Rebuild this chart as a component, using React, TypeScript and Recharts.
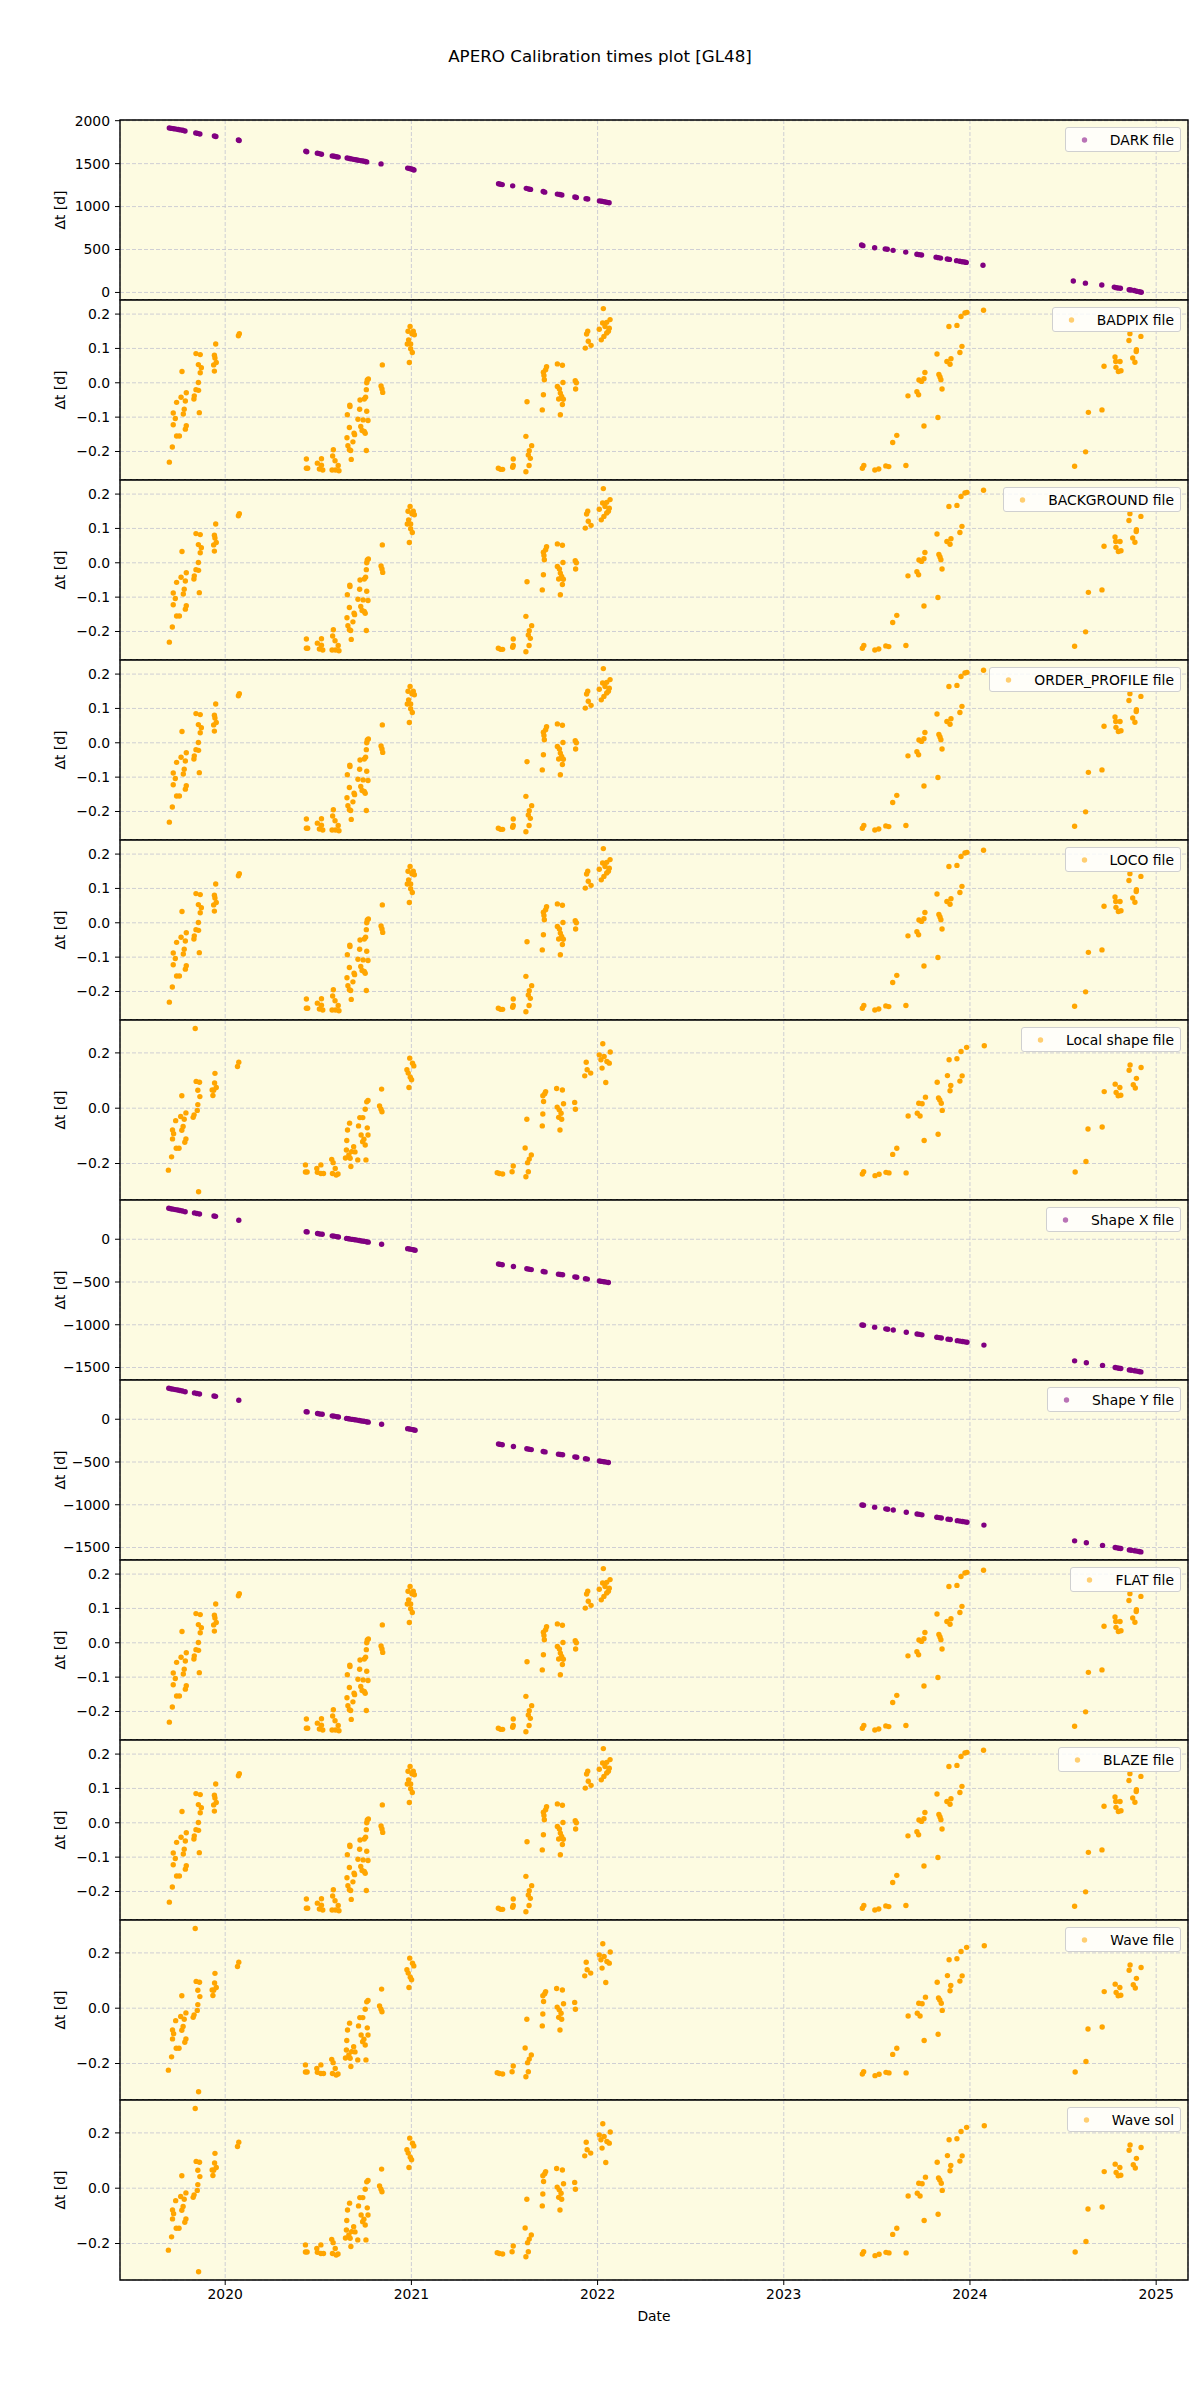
import React from 'react';
import {
  ScatterChart,
  Scatter,
  XAxis,
  YAxis,
  CartesianGrid,
  ReferenceArea,
  Legend,
} from 'recharts';

type Pt = [number, number];

// dates are decimal years, values are Δt in days
const YEAR_TICKS = [2020, 2021, 2022, 2023, 2024, 2025];
const DATE_DOMAIN: [number, number] = [2019.435, 2025.171];

const DARK_POINTS: Pt[] = [
  [2019.7, 1915], [2019.712, 1910], [2019.724, 1906], [2019.736, 1902], [2019.748, 1897],
  [2019.76, 1893], [2019.772, 1888], [2019.784, 1880], [2019.842, 1858], [2019.852, 1852],
  [2019.864, 1845], [2019.942, 1822], [2019.95, 1816], [2020.071, 1776], [2020.075, 1770],
  [2020.433, 1645], [2020.438, 1638], [2020.495, 1622], [2020.505, 1617], [2020.517, 1610],
  [2020.575, 1590], [2020.585, 1586], [2020.597, 1580], [2020.607, 1576], [2020.655, 1565],
  [2020.667, 1560], [2020.678, 1555], [2020.69, 1550], [2020.702, 1546], [2020.714, 1540],
  [2020.728, 1535], [2020.74, 1530], [2020.752, 1525], [2020.76, 1520], [2020.837, 1497],
  [2020.98, 1448], [2020.99, 1443], [2021.0, 1438], [2021.008, 1432], [2021.014, 1425],
  [2021.468, 1265], [2021.478, 1260], [2021.488, 1256], [2021.544, 1241], [2021.617, 1212],
  [2021.63, 1205], [2021.64, 1200], [2021.708, 1175], [2021.716, 1168], [2021.784, 1145],
  [2021.797, 1140], [2021.808, 1135], [2021.878, 1111], [2021.886, 1106], [2021.938, 1092],
  [2021.947, 1088], [2022.01, 1066], [2022.022, 1062], [2022.032, 1058], [2022.042, 1053],
  [2022.052, 1049], [2022.062, 1044],
  [2023.418, 552], [2023.425, 545], [2023.488, 520], [2023.545, 507], [2023.556, 503],
  [2023.587, 490], [2023.655, 470], [2023.715, 445], [2023.728, 440], [2023.74, 436],
  [2023.818, 411], [2023.83, 405], [2023.842, 400], [2023.878, 390], [2023.89, 385],
  [2023.928, 370], [2023.945, 364], [2023.958, 358], [2023.97, 354], [2023.98, 350],
  [2024.07, 316],
  [2024.555, 133], [2024.62, 108], [2024.708, 86], [2024.775, 62], [2024.785, 56],
  [2024.795, 52], [2024.808, 48], [2024.855, 32], [2024.865, 28], [2024.882, 22],
  [2024.895, 14], [2024.91, 8], [2024.92, 3],
];

const SHAPE_POINTS: Pt[] = [
  [2019.697, 362], [2019.708, 357], [2019.72, 352], [2019.732, 347], [2019.745, 342],
  [2019.757, 336], [2019.77, 330], [2019.785, 322], [2019.835, 308], [2019.848, 302],
  [2019.862, 296], [2019.94, 272], [2019.948, 268], [2020.073, 222],
  [2020.435, 89], [2020.44, 86], [2020.496, 67], [2020.508, 62], [2020.521, 58],
  [2020.575, 40], [2020.585, 36], [2020.598, 31], [2020.608, 27], [2020.652, 10],
  [2020.662, 6], [2020.672, 2], [2020.684, -2], [2020.696, -6], [2020.708, -10],
  [2020.72, -14], [2020.732, -20], [2020.745, -24], [2020.758, -30], [2020.768, -34],
  [2020.84, -58], [2020.98, -110], [2020.99, -114], [2021.0, -118], [2021.01, -122],
  [2021.02, -128],
  [2021.468, -290], [2021.478, -294], [2021.488, -298], [2021.548, -318], [2021.62, -345],
  [2021.632, -350], [2021.644, -355], [2021.708, -378], [2021.718, -382], [2021.79, -408],
  [2021.8, -412], [2021.812, -416], [2021.878, -440], [2021.888, -444], [2021.935, -462],
  [2021.945, -466], [2022.01, -488], [2022.022, -493], [2022.034, -497], [2022.046, -501],
  [2022.058, -506],
  [2023.42, -1002], [2023.428, -1005], [2023.488, -1028], [2023.548, -1048], [2023.558, -1052],
  [2023.588, -1062], [2023.658, -1088], [2023.716, -1108], [2023.728, -1112], [2023.742, -1118],
  [2023.822, -1146], [2023.834, -1150], [2023.846, -1155], [2023.882, -1168], [2023.894, -1172],
  [2023.932, -1186], [2023.946, -1191], [2023.96, -1196], [2023.972, -1200], [2023.984, -1205],
  [2024.075, -1238],
  [2024.562, -1422], [2024.625, -1445], [2024.712, -1475], [2024.78, -1500], [2024.79, -1504],
  [2024.8, -1508], [2024.81, -1511], [2024.856, -1528], [2024.866, -1532], [2024.884, -1538],
  [2024.896, -1542], [2024.908, -1547], [2024.918, -1551],
];

// BADPIX / BACKGROUND / ORDER_PROFILE / LOCO / FLAT / BLAZE
const CALIB_POINTS: Pt[] = [
  [2019.7, -0.231], [2019.716, -0.187], [2019.721, -0.122], [2019.721, -0.088], [2019.732, -0.104],
  [2019.739, -0.057], [2019.739, -0.155], [2019.754, -0.155], [2019.763, -0.042], [2019.768, 0.033],
  [2019.775, -0.091], [2019.78, -0.077], [2019.786, -0.053], [2019.786, -0.135], [2019.791, -0.125],
  [2019.791, -0.029], [2019.832, -0.047], [2019.834, -0.038], [2019.843, -0.02], [2019.857, -0.022],
  [2019.856, 0.001], [2019.861, -0.087], [2019.866, 0.029], [2019.872, 0.044], [2019.856, 0.053],
  [2019.843, 0.085], [2019.866, 0.082], [2019.942, 0.034], [2019.938, 0.052], [2019.952, 0.059],
  [2019.945, 0.072], [2019.942, 0.08], [2019.949, 0.113], [2020.071, 0.137], [2020.076, 0.143],
  [2020.436, -0.222], [2020.436, -0.249], [2020.443, -0.249], [2020.495, -0.234], [2020.517, -0.221],
  [2020.506, -0.251], [2020.524, -0.254], [2020.517, -0.24], [2020.581, -0.195], [2020.577, -0.213],
  [2020.59, -0.227], [2020.574, -0.254], [2020.592, -0.254], [2020.607, -0.241], [2020.611, -0.256],
  [2020.656, -0.093], [2020.667, -0.13], [2020.67, -0.069], [2020.669, -0.065], [2020.654, -0.16],
  [2020.659, -0.183], [2020.667, -0.195], [2020.674, -0.197], [2020.677, -0.223], [2020.686, -0.172],
  [2020.692, -0.147], [2020.695, -0.151], [2020.713, -0.106], [2020.722, -0.077], [2020.724, -0.05],
  [2020.728, -0.127], [2020.735, -0.139], [2020.741, -0.108], [2020.747, -0.142], [2020.747, -0.047],
  [2020.752, -0.147], [2020.754, -0.042], [2020.76, -0.083], [2020.767, -0.11], [2020.758, -0.197],
  [2020.758, -0.02], [2020.76, 0.0], [2020.763, 0.008], [2020.769, 0.011],
  [2020.844, 0.052], [2020.837, -0.009], [2020.842, -0.018], [2020.846, -0.028],
  [2020.989, 0.059], [2020.993, 0.164], [2020.982, 0.15], [2020.985, 0.125], [2020.978, 0.113],
  [2020.996, 0.113], [2020.996, 0.099], [2021.005, 0.088], [2021.01, 0.15], [2021.016, 0.14],
  [2021.003, 0.143],
  [2021.467, -0.249], [2021.479, -0.252], [2021.49, -0.252], [2021.544, -0.246], [2021.547, -0.241],
  [2021.547, -0.222], [2021.615, -0.156], [2021.628, -0.21], [2021.633, -0.198], [2021.639, -0.22],
  [2021.646, -0.183], [2021.632, -0.241], [2021.615, -0.259], [2021.621, -0.055], [2021.703, -0.079],
  [2021.709, -0.035], [2021.714, 0.009], [2021.712, 0.021], [2021.709, 0.031], [2021.721, 0.038],
  [2021.726, 0.047], [2021.784, 0.055], [2021.811, 0.051], [2021.784, -0.011], [2021.791, -0.047],
  [2021.795, -0.018], [2021.8, -0.03], [2021.807, -0.04], [2021.811, -0.063], [2021.816, -0.048],
  [2021.8, -0.093], [2021.814, 0.001], [2021.88, 0.006], [2021.886, 0.0], [2021.882, -0.018],
  [2021.934, 0.101], [2021.941, 0.142], [2021.947, 0.15], [2021.95, 0.121], [2021.965, 0.109],
  [2022.009, 0.156], [2022.02, 0.125], [2022.027, 0.174], [2022.031, 0.216], [2022.04, 0.164],
  [2022.049, 0.145], [2022.058, 0.15], [2022.067, 0.184], [2022.063, 0.159], [2022.049, 0.176],
  [2022.034, 0.135],
  [2023.422, -0.249], [2023.43, -0.241], [2023.489, -0.254], [2023.51, -0.251], [2023.548, -0.242],
  [2023.564, -0.244], [2023.585, -0.174], [2023.607, -0.153], [2023.656, -0.241], [2023.667, -0.038],
  [2023.715, -0.026], [2023.724, -0.035], [2023.753, -0.126], [2023.726, 0.008], [2023.74, 0.004],
  [2023.753, 0.012], [2023.758, 0.03], [2023.823, 0.084], [2023.828, -0.101], [2023.833, 0.024],
  [2023.839, 0.017], [2023.844, 0.009], [2023.85, -0.018], [2023.876, 0.062], [2023.893, 0.054],
  [2023.898, 0.07], [2023.887, 0.164], [2023.93, 0.167], [2023.946, 0.088], [2023.957, 0.106],
  [2023.952, 0.193], [2023.973, 0.203], [2023.984, 0.205], [2024.073, 0.211],
  [2024.562, -0.243], [2024.621, -0.201], [2024.636, -0.086], [2024.709, -0.079], [2024.72, 0.048],
  [2024.779, 0.075], [2024.783, 0.062], [2024.784, 0.045], [2024.797, 0.033], [2024.806, 0.062],
  [2024.811, 0.035], [2024.854, 0.123], [2024.859, 0.143], [2024.874, 0.072], [2024.886, 0.06],
  [2024.894, 0.096], [2024.893, 0.091], [2024.918, 0.135],
];

// Local shape / Wave file / Wave sol
const WAVE_POINTS: Pt[] = [
  [2019.695, -0.224], [2019.712, -0.176], [2019.717, -0.111], [2019.717, -0.079], [2019.723, -0.092],
  [2019.734, -0.045], [2019.737, -0.145], [2019.752, -0.145], [2019.761, -0.03], [2019.767, 0.045],
  [2019.767, -0.08], [2019.774, -0.066], [2019.78, -0.04], [2019.783, -0.123], [2019.789, -0.111],
  [2019.789, -0.017], [2019.828, -0.033], [2019.833, -0.024], [2019.839, 0.288], [2019.844, 0.097],
  [2019.85, -0.008], [2019.853, 0.065], [2019.853, 0.013], [2019.857, -0.302], [2019.862, 0.094],
  [2019.864, 0.042], [2019.934, 0.046], [2019.938, 0.065], [2019.943, 0.091], [2019.952, 0.075],
  [2019.93, 0.066], [2019.945, 0.126], [2020.066, 0.151], [2020.073, 0.166],
  [2020.431, -0.205], [2020.431, -0.231], [2020.44, -0.231], [2020.492, -0.218], [2020.495, -0.232],
  [2020.514, -0.205], [2020.514, -0.236], [2020.528, -0.236], [2020.572, -0.185], [2020.58, -0.197],
  [2020.576, -0.236], [2020.591, -0.218], [2020.596, -0.242], [2020.606, -0.238], [2020.646, -0.18],
  [2020.651, -0.151], [2020.653, -0.117], [2020.657, -0.079], [2020.668, -0.054], [2020.664, -0.169],
  [2020.671, -0.181], [2020.675, -0.211], [2020.679, -0.157], [2020.69, -0.139], [2020.697, -0.158],
  [2020.712, -0.187], [2020.716, -0.064], [2020.723, -0.034], [2020.73, -0.097], [2020.738, -0.121],
  [2020.745, -0.112], [2020.752, -0.133], [2020.756, -0.187], [2020.763, -0.071], [2020.767, -0.097],
  [2020.739, -0.034], [2020.752, -0.004], [2020.76, 0.023], [2020.767, 0.028], [2020.829, 0.008],
  [2020.837, -0.004], [2020.842, -0.013], [2020.84, 0.069], [2020.987, 0.075], [2020.983, 0.127],
  [2020.976, 0.139], [2020.991, 0.181], [2020.994, 0.112], [2021.001, 0.103], [2021.006, 0.163],
  [2021.013, 0.153],
  [2021.461, -0.233], [2021.472, -0.236], [2021.49, -0.238], [2021.541, -0.23], [2021.547, -0.209],
  [2021.611, -0.144], [2021.624, -0.197], [2021.628, -0.23], [2021.615, -0.248], [2021.633, -0.184],
  [2021.644, -0.169], [2021.62, -0.04], [2021.703, -0.064], [2021.706, -0.021], [2021.71, 0.024],
  [2021.706, 0.045], [2021.716, 0.052], [2021.721, 0.06], [2021.78, 0.071], [2021.811, 0.066],
  [2021.783, 0.004], [2021.791, -0.033], [2021.794, -0.006], [2021.804, -0.018], [2021.807, -0.04],
  [2021.798, -0.079], [2021.817, 0.016], [2021.877, 0.021], [2021.881, -0.004], [2021.931, 0.117],
  [2021.939, 0.166], [2021.944, 0.139], [2021.963, 0.127], [2022.018, 0.175], [2022.024, 0.145],
  [2022.028, 0.233], [2022.035, 0.187], [2022.044, 0.093], [2022.05, 0.169], [2022.063, 0.163],
  [2022.068, 0.203], [2022.009, 0.193],
  [2023.422, -0.238], [2023.429, -0.23], [2023.49, -0.244], [2023.512, -0.239], [2023.549, -0.232],
  [2023.565, -0.234], [2023.585, -0.167], [2023.607, -0.145], [2023.657, -0.234], [2023.668, -0.028],
  [2023.717, -0.018], [2023.732, -0.028], [2023.754, -0.117], [2023.725, 0.018], [2023.743, 0.016],
  [2023.761, 0.04], [2023.824, 0.094], [2023.829, -0.094], [2023.831, 0.037], [2023.838, 0.03],
  [2023.846, 0.018], [2023.851, -0.008], [2023.879, 0.118], [2023.897, 0.082], [2023.893, 0.063],
  [2023.888, 0.175], [2023.93, 0.179], [2023.946, 0.098], [2023.958, 0.117], [2023.952, 0.205],
  [2023.982, 0.22], [2024.077, 0.226],
  [2024.565, -0.231], [2024.623, -0.193], [2024.634, -0.075], [2024.71, -0.068], [2024.721, 0.06],
  [2024.78, 0.087], [2024.785, 0.057], [2024.796, 0.045], [2024.805, 0.075], [2024.81, 0.047],
  [2024.855, 0.137], [2024.86, 0.156], [2024.877, 0.085], [2024.888, 0.073], [2024.894, 0.108],
  [2024.919, 0.147],
];

const DARK_TICKS = [0, 500, 1000, 1500, 2000];
const SHAPE_TICKS = [-1500, -1000, -500, 0];
const CALIB_TICKS = [-0.2, -0.1, 0, 0.1, 0.2];
const WAVE_TICKS = [-0.2, 0, 0.2];

const PURPLE = '#800080';
const ORANGE = '#ffa500';
const FONT = 'DejaVu Sans, sans-serif';

const PAD = 10; // room above/below each panel for edge tick labels

const fmtInt = (v: number) => (v < 0 ? `\u2212${Math.abs(v)}` : `${v}`);
const fmtDec = (v: number) => (v < 0 ? `\u2212${Math.abs(v).toFixed(1)}` : v.toFixed(1));

const calib = { data: CALIB_POINTS, color: ORANGE, domain: [-0.283, 0.241], ticks: CALIB_TICKS, fmt: fmtDec, labelX: 61 };
const wave = { data: WAVE_POINTS, color: ORANGE, domain: [-0.332, 0.319], ticks: WAVE_TICKS, fmt: fmtDec, labelX: 61 };
const shape = { data: SHAPE_POINTS, color: PURPLE, domain: [-1646, 459], ticks: SHAPE_TICKS, fmt: fmtInt, labelX: 49 };

const PANELS = [
  { name: 'DARK file', data: DARK_POINTS, color: PURPLE, domain: [-88, 2008], ticks: DARK_TICKS, fmt: fmtInt, labelX: 60 },
  { name: 'BADPIX file', ...calib },
  { name: 'BACKGROUND file', ...calib },
  { name: 'ORDER_PROFILE file', ...calib },
  { name: 'LOCO file', ...calib },
  { name: 'Local shape file', ...wave },
  { name: 'Shape X file', ...shape },
  { name: 'Shape Y file', ...shape },
  { name: 'FLAT file', ...calib },
  { name: 'BLAZE file', ...calib },
  { name: 'Wave file', ...wave },
  { name: 'Wave sol', ...wave },
];

const YLabel = ({ viewBox, x }: any) => {
  const cy = viewBox.y + viewBox.height / 2;
  return (
    <text
      x={x}
      y={cy}
      transform={`rotate(-90 ${x} ${cy})`}
      textAnchor="middle"
      dominantBaseline="central"
      fontSize={13.9}
      fill="#000"
    >
      Δt [d]
    </text>
  );
};

const LegendBox = ({ name, color }: { name: string; color: string }) => (
  <div
    style={{
      display: 'inline-flex',
      alignItems: 'center',
      height: 23,
      background: 'rgba(255,255,255,0.8)',
      border: '1px solid #d0d0d0',
      borderRadius: 3,
      paddingRight: 6,
      fontFamily: FONT,
      fontSize: 13.9,
      color: '#000',
      whiteSpace: 'nowrap',
    }}
  >
    <svg width={38} height={10} style={{ marginRight: 6 }}>
      <circle cx={18.5} cy={5} r={2.7} fill={color} opacity={0.55} />
    </svg>
    <span>{name}</span>
  </div>
);

// keeps the x ticks (for the vertical grid) but draws no label
const NoTick = () => <g />;

const Panel = ({ p, last }: { p: any; last: boolean }) => {
  const points = p.data.map(([date, dt]: Pt) => ({ date, dt }));
  return (
    <ScatterChart
      width={1200}
      height={last ? 180 + PAD + 60 : 180 + 2 * PAD}
      margin={{ top: PAD, right: 12, bottom: last ? 0 : PAD, left: 0 }}
      style={{ fontFamily: FONT }}
    >
      <CartesianGrid fill="#fdfbe1" stroke="#c9c9d2" strokeDasharray="4 2" strokeWidth={0.9} />
      <XAxis
        dataKey="date"
        type="number"
        domain={DATE_DOMAIN}
        ticks={YEAR_TICKS}
        interval={0}
        allowDataOverflow
        height={last ? 60 : 0}
        tick={last ? { fontSize: 13.9, fill: '#000' } : NoTick}
        tickLine={last ? { stroke: '#000' } : false}
        axisLine={false}
        tickSize={5}
        tickMargin={4}
        tickFormatter={(v: number) => `${v}`}
        label={last ? { value: 'Date', position: 'insideBottom', offset: 19, fontSize: 13.9, fill: '#000' } : undefined}
      />
      <YAxis
        dataKey="dt"
        type="number"
        domain={p.domain}
        ticks={p.ticks}
        interval={0}
        allowDataOverflow
        width={120}
        axisLine={false}
        tickLine={{ stroke: '#000' }}
        tickSize={5}
        tickMargin={5}
        tick={{ fontSize: 13.9, fill: '#000' }}
        tickFormatter={p.fmt}
        label={<YLabel x={p.labelX} />}
      />
      <Scatter
        data={points}
        isAnimationActive={false}
        name={p.name}
        fill={p.color}
        shape={(s: any) => <circle cx={s.cx} cy={s.cy} r={2.7} fill={p.color} />}
      />
      <ReferenceArea
        x1={DATE_DOMAIN[0]}
        x2={DATE_DOMAIN[1]}
        y1={p.domain[0]}
        y2={p.domain[1]}
        fill="none"
        stroke="#000"
        strokeWidth={1.4}
        ifOverflow="visible"
      />
      <Legend
        layout="horizontal"
        verticalAlign="middle"
        align="center"
        wrapperStyle={{ top: PAD + 7, right: 19, left: 'auto', width: 'auto', height: 'auto' }}
        content={() => <LegendBox name={p.name} color={p.color} />}
      />
    </ScatterChart>
  );
};

export default function App() {
  return (
    <div
      style={{
        position: 'absolute',
        left: 0,
        top: 0,
        width: 1200,
        height: 2400,
        background: '#fff',
        fontFamily: FONT,
      }}
    >
      <div
        style={{
          position: 'absolute',
          top: 46,
          left: 0,
          width: 1200,
          textAlign: 'center',
          fontSize: 16.7,
          color: '#000',
        }}
      >
        APERO Calibration times plot [GL48]
      </div>
      {PANELS.map((p, i) => (
        <div key={p.name} style={{ position: 'absolute', left: 0, top: 120 + 180 * i - PAD }}>
          <Panel p={p} last={i === PANELS.length - 1} />
        </div>
      ))}
    </div>
  );
}
